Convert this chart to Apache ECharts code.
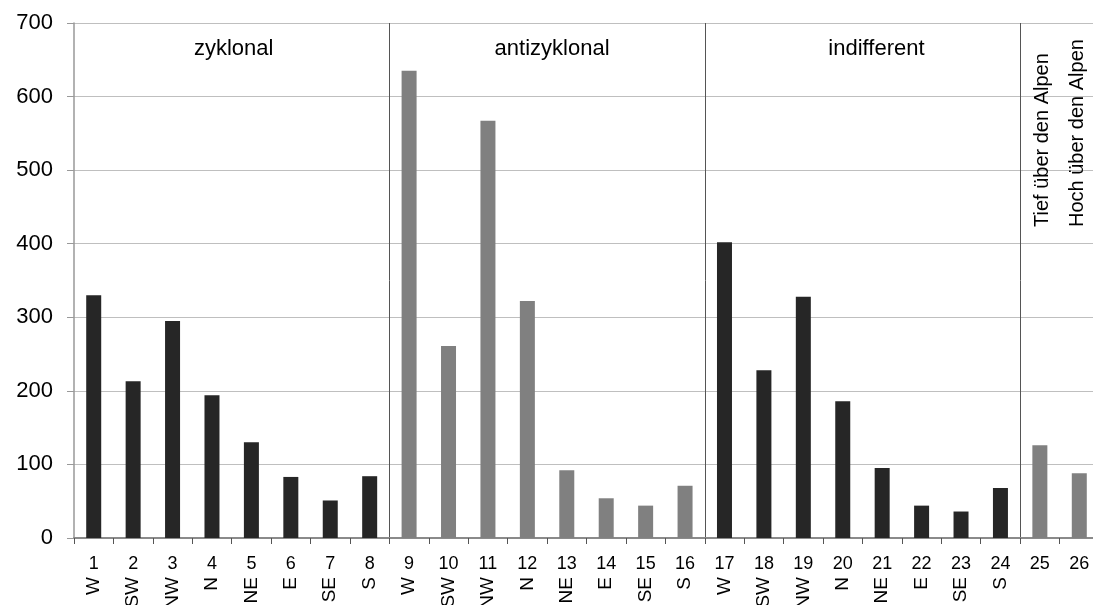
<!DOCTYPE html>
<html><head><meta charset="utf-8">
<script src="https://cdn.jsdelivr.net/npm/echarts@6/dist/echarts.min.js"></script>
<style>html,body{margin:0;padding:0;background:#fff;overflow:hidden}#c{width:1093px;height:605px}</style>
</head><body><div id="c"></div>
<script>
const categories = ['1','2','3','4','5','6','7','8','9','10','11','12','13','14','15','16','17','18','19','20','21','22','23','24','25','26'];
const directions = ['W','SW','NW','N','NE','E','SE','S','W','SW','NW','N','NE','E','SE','S','W','SW','NW','N','NE','E','SE','S','',''];
const values = [330,213,295,194,130,83,51,84, 635,261,567,322,92,54,44,71, 402,228,328,186,95,44,36,68, 126,88];
const groupNames = ['zyklonal','antizyklonal','indifferent'];
const groupRanges = [['1','8'],['9','16'],['17','24']];
const extraLabels = ['Tief über den Alpen','Hoch über den Alpen'];
const extraCats = ['25','26'];
const yMin = 0, yMax = 700, yStep = 100;
const separatorIdx = [8,16,24];

const DARK = '#262626', GRAY = '#808080';
const FONT = '"Liberation Sans", Arial, sans-serif';

const chart = echarts.init(document.getElementById('c'), null, {renderer:'canvas'});
const option = {
  animation:false,
  backgroundColor:'#fff',
  grid:{left:74, width:1025, top:23, bottom:67, containLabel:false, outerBoundsMode:'none'},
  xAxis:[{
    type:'category', data:categories, position:'bottom',
    axisLine:{show:true, lineStyle:{color:'#8a8a8a', width:2}},
    axisTick:{show:true, alignWithLabel:false, length:6, lineStyle:{color:'#555'}},
    axisLabel:{interval:0, margin:17, fontSize:18, color:'#000', fontFamily:FONT},
    splitLine:{show:true, interval:function(i){return separatorIdx.indexOf(i)>=0;}, lineStyle:{color:'#555', width:1}}
  },{
    type:'category', data:directions, position:'bottom',
    axisLine:{show:false}, axisTick:{show:false}, splitLine:{show:false},
    axisLabel:{interval:0, rotate:90, margin:39, fontSize:19, color:'#000', fontFamily:FONT}
  }],
  yAxis:{
    type:'value', min:yMin, max:yMax, interval:yStep,
    axisLine:{show:true, lineStyle:{color:'#999', width:1.5}},
    axisTick:{show:true, length:7, lineStyle:{color:'#999'}},
    axisLabel:{margin:21, fontSize:22, color:'#000', fontFamily:FONT},
    splitLine:{show:true, lineStyle:{color:'#bfbfbf', width:1.2}}
  },
  series:[{
    type:'bar', xAxisIndex:0, data:values, barWidth:15,
    itemStyle:{color:function(p){var i=p.dataIndex; return (i<8||(i>=16&&i<24))?DARK:GRAY;}}
  }]
};
chart.setOption(option);

const gfx = [];
const offs = [2,5,14];
groupRanges.forEach(function(r,k){
  const a = chart.convertToPixel({xAxisIndex:0}, r[0]);
  const b = chart.convertToPixel({xAxisIndex:0}, r[1]);
  gfx.push({type:'text', x:(a+b)/2+offs[k], y:49, style:{text:groupNames[k], font:'22px '+FONT, fill:'#000', align:'center', verticalAlign:'middle', textAlign:'center', textVerticalAlign:'middle'}});
});
extraCats.forEach(function(c,k){
  const x = chart.convertToPixel({xAxisIndex:0}, c);
  gfx.push({type:'text', x:x+(k===0?3:-2), y:227, rotation:Math.PI/2, style:{text:extraLabels[k], font:'20px '+FONT, fill:'#000', align:'left', verticalAlign:'middle', textAlign:'left', textVerticalAlign:'middle'}});
});
chart.setOption({graphic:gfx});
</script></body></html>
